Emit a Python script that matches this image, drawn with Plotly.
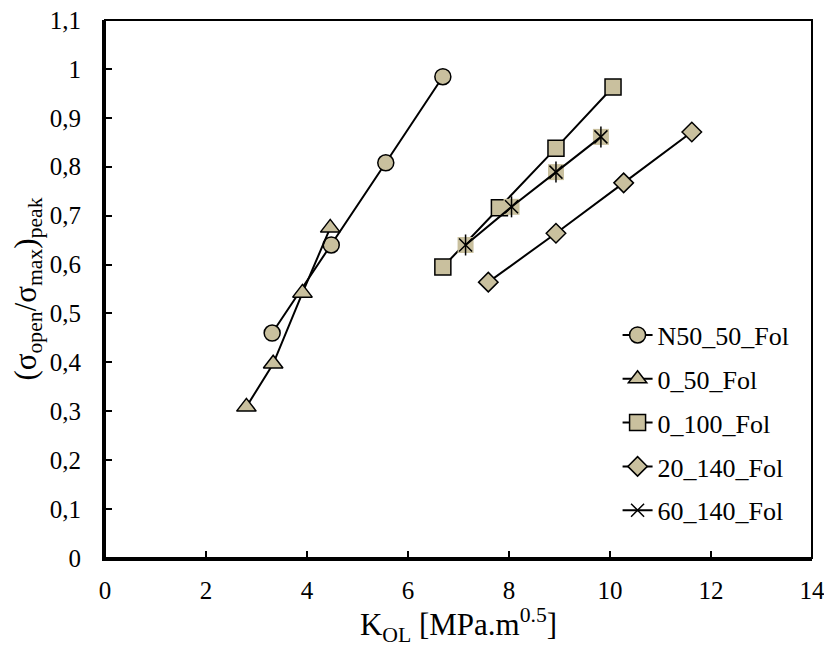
import plotly.graph_objects as go

# Data
n50_50_x = [3.31, 4.48, 5.56, 6.69]
n50_50_y = [0.460, 0.640, 0.808, 0.984]

o50_x = [2.80, 3.33, 3.91, 4.46]
o50_y = [0.309, 0.397, 0.542, 0.675]

o100_x = [6.69, 7.81, 8.93, 10.06]
o100_y = [0.595, 0.716, 0.838, 0.963]

s20_140_x = [7.59, 8.93, 10.27, 11.62]
s20_140_y = [0.564, 0.664, 0.767, 0.871]

s60_140_x = [7.14, 8.05, 8.93, 9.82]
s60_140_y = [0.640, 0.718, 0.789, 0.861]

y_ticks = [0, 0.1, 0.2, 0.3, 0.4, 0.5, 0.6, 0.7, 0.8, 0.9, 1.0, 1.1]
y_tick_text = ["0", "0,1", "0,2", "0,3", "0,4", "0,5", "0,6", "0,7",
               "0,8", "0,9", "1", "1,1"]

FILL = "#C9C09E"
FONT = "Liberation Serif, Times New Roman, serif"

fig = go.Figure()


def add_series(x, y, name, symbol, size, group):
    fig.add_trace(go.Scatter(
        x=x, y=y, name=name, mode="lines+markers",
        legendgroup=group,
        line=dict(color="black", width=2),
        marker=dict(symbol=symbol, size=size, color=FILL,
                    line=dict(color="black", width=1.5)),
    ))


add_series(n50_50_x, n50_50_y, "N50_50_Fol", "circle", 16, "g1")
add_series(o50_x, o50_y, "0_50_Fol", "triangle-up", 17, "g2")
add_series(o100_x, o100_y, "0_100_Fol", "square", 16, "g3")
add_series(s20_140_x, s20_140_y, "20_140_Fol", "diamond", 15, "g4")

# 60_140_Fol: filled square background + star drawn from two open symbols
fig.add_trace(go.Scatter(
    x=s60_140_x, y=s60_140_y, mode="markers", showlegend=False,
    legendgroup="g5",
    marker=dict(symbol="square", size=16, color=FILL, line=dict(width=0)),
))
fig.add_trace(go.Scatter(
    x=s60_140_x, y=s60_140_y, name="60_140_Fol", mode="lines+markers",
    legendgroup="g5",
    line=dict(color="black", width=2),
    marker=dict(symbol="x-thin-open", size=13, color="black",
                line=dict(color="black", width=1.5)),
))
fig.add_trace(go.Scatter(
    x=s60_140_x, y=s60_140_y, mode="markers", showlegend=False,
    legendgroup="g5",
    marker=dict(symbol="line-ns-open", size=15, color="black",
                line=dict(color="black", width=1.5)),
))

# the page keeps an 8px body margin, so size the figure to fit inside it
fig.update_layout(
    width=816, height=639,
    margin=dict(l=97, r=12, t=12, b=89),
    plot_bgcolor="white",
    paper_bgcolor="white",
    font=dict(family=FONT, size=25, color="black"),
    legend=dict(
        x=0.725, y=0.458, xanchor="left", yanchor="top",
        bgcolor="rgba(0,0,0,0)",
        font=dict(family=FONT, size=26, color="black"),
        tracegroupgap=7,
    ),
    shapes=[dict(type="rect", xref="paper", yref="paper",
                 x0=0, y0=0, x1=1, y1=1,
                 line=dict(color="black", width=2), layer="above")],
)

fig.update_xaxes(
    range=[0, 14], dtick=2, tick0=0,
    showgrid=False, zeroline=False, automargin=False,
    showline=True, linecolor="black", linewidth=3,
    ticks="inside", ticklen=7, tickwidth=1.5, tickcolor="black",
    tickfont=dict(family=FONT, size=25),
    ticklabelstandoff=8, ticklabeloverflow="allow",
    title=dict(text="K<sub>OL</sub> [MPa.m<sup>0.5</sup>]",
               font=dict(family=FONT, size=31), standoff=17),
)
fig.update_yaxes(
    range=[0, 1.1], tickvals=y_ticks, ticktext=y_tick_text,
    showgrid=False, zeroline=False, automargin=False,
    showline=True, linecolor="black", linewidth=3,
    ticks="inside", ticklen=7, tickwidth=1.5, tickcolor="black",
    tickfont=dict(family=FONT, size=25),
    ticklabelstandoff=16, ticklabeloverflow="allow",
    title=dict(text="(σ<sub>open</sub>/σ<sub>max</sub>)<sub>peak</sub>",
               font=dict(family=FONT, size=31), standoff=11),
)

fig.write_html("out.html")
